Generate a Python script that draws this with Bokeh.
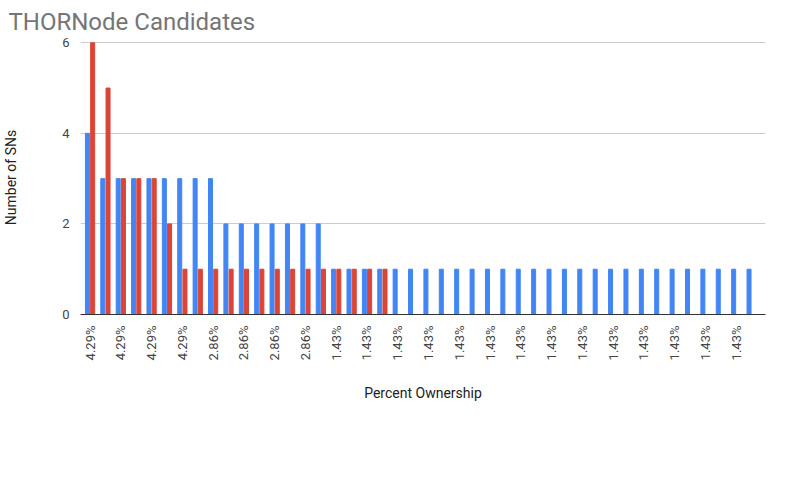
import math
from bokeh.plotting import figure
from bokeh.models import Range1d, FixedTicker, Legend, LegendItem
from bokeh.embed import file_html
from bokeh.resources import INLINE

labels = ["4.29%"] * 8 + ["2.86%"] * 8 + ["1.43%"] * 28
apr2020 = [4, 3, 3, 3, 3, 3, 3, 3, 3, 2, 2, 2, 2, 2, 2, 2] + [1] * 28
oct2019 = [6, 5, 3, 3, 3, 2, 1, 1, 1, 1, 1, 1, 1, 1, 1, 1, 1, 1, 1, 1] + [0] * 24

n = len(labels)
xs = list(range(n))

p = figure(frame_width=685, frame_height=274, output_backend="svg", toolbar_location=None,
           x_range=Range1d(-0.62, 43.9), y_range=Range1d(0, 6.05),
           title="THORNode Candidates", min_border_left=60, min_border_right=12,
           min_border_top=10, min_border_bottom=10)
p.title.text_font = "Roboto"
p.title.text_font_size = "24px"
p.title.text_font_style = "normal"
p.title.text_color = "#757575"
p.title.offset = -72
p.outline_line_color = None

b = p.vbar(x=[x - 0.17 for x in xs], top=apr2020, width=0.26, color="#4285F4")
r = p.vbar(x=[x + 0.17 for x in xs], top=oct2019, width=0.26, color="#DB4437")

p.xgrid.visible = False
p.ygrid.grid_line_color = "#cccccc"
p.yaxis.ticker = FixedTicker(ticks=[0, 2, 4, 6])
p.yaxis.axis_line_color = None
p.yaxis.major_tick_line_color = None
p.yaxis.minor_tick_line_color = None
p.yaxis.axis_label = "Number of SNs"
p.yaxis.axis_label_standoff = 40
p.xaxis.axis_label = "Percent Ownership"
for ax in (p.xaxis, p.yaxis):
    ax.axis_label_text_font = "Roboto"
    ax.axis_label_text_font_size = "14px"
    ax.axis_label_text_font_style = "normal"
    ax.axis_label_text_color = "#222222"
    ax.major_label_text_font = "Roboto"
    ax.major_label_text_font_size = "13px"
    ax.major_label_text_color = "#444444"

even = list(range(0, n, 2))
p.xaxis.ticker = FixedTicker(ticks=even)
p.xaxis.major_label_overrides = {i: labels[i] for i in even}
p.xaxis.major_label_orientation = math.pi / 2
p.xaxis.major_tick_line_color = None
p.xaxis.minor_tick_line_color = None
p.xaxis.axis_line_color = "#333333"
p.xaxis.axis_label_standoff = 22

legend = Legend(items=[LegendItem(label="Apr 2020", renderers=[b]),
                       LegendItem(label="Oct 2019", renderers=[r])],
                orientation="horizontal", location=(190, 0), border_line_color=None,
                label_text_font="Roboto", label_text_font_size="14px",
                label_text_color="#222222", glyph_width=12, glyph_height=12, spacing=30)
p.add_layout(legend, "below")

open("out.html", "w").write(file_html(p, INLINE))
